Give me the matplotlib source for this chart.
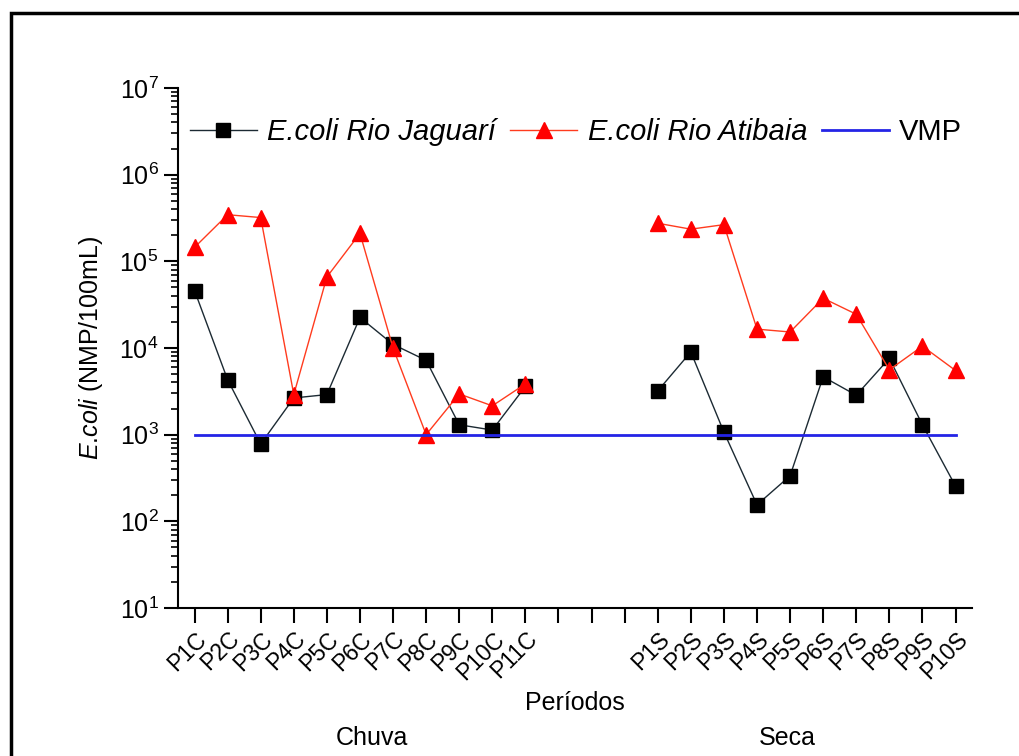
import matplotlib
matplotlib.use("Agg")
import matplotlib.pyplot as plt
from matplotlib.patches import Rectangle
from matplotlib.ticker import LogLocator, NullFormatter
import numpy as np

plt.rcParams['font.family'] = ['Liberation Sans', 'DejaVu Sans']
plt.rcParams['mathtext.fontset'] = 'custom'
plt.rcParams['mathtext.rm'] = 'Liberation Sans'
plt.rcParams['mathtext.it'] = 'Liberation Sans:italic'

# sampling points, rainy (C) and dry (S) season, with three empty slots between
chuva = ['P1C', 'P2C', 'P3C', 'P4C', 'P5C', 'P6C', 'P7C', 'P8C', 'P9C', 'P10C', 'P11C']
seca = ['P1S', 'P2S', 'P3S', 'P4S', 'P5S', 'P6S', 'P7S', 'P8S', 'P9S', 'P10S']
gap = 3

# E. coli (NMP/100mL)
jaguari_chuva = [46000, 4300, 780, 2650, 2900, 22500, 11000, 7200, 1300, 1130, 3600]
jaguari_seca = [3200, 9000, 1070, 155, 335, 4650, 2850, 7600, 1300, 255]
atibaia_chuva = [145000, 345000, 320000, 2900, 66000, 210000, 10000, 1000, 2950, 2150, 3850]
atibaia_seca = [275000, 235000, 265000, 16500, 15300, 37500, 24500, 5600, 10500, 5500]
vmp = 1000

labels = chuva + [''] * gap + seca
x_all = np.arange(len(labels))
x_c = x_all[:len(chuva)]
x_s = x_all[len(chuva) + gap:]

fig = plt.figure(figsize=(10.2, 7.56), dpi=100)
ax = fig.add_axes([0.1745, 0.1958, 0.7785, 0.6878])

jag_kw = dict(color='#1c2a33', lw=1, marker='s', ms=10, mfc='black', mec='black')
ati_kw = dict(color='#ff3b1e', lw=1, marker='^', ms=12, mfc='red', mec='red')

ax.plot(x_c, jaguari_chuva, label='E.coli Rio Jaguarí', **jag_kw)
ax.plot(x_s, jaguari_seca, **jag_kw)
ax.plot(x_c, atibaia_chuva, label='E.coli Rio Atibaia', **ati_kw)
ax.plot(x_s, atibaia_seca, **ati_kw)
ax.plot([x_all[0], x_all[-1]], [vmp, vmp], color='#2424e6', lw=2, label='VMP')

ax.set_yscale('log')
ax.set_ylim(10, 1e7)
ax.set_xlim(-0.5, len(labels) - 0.5)
ax.yaxis.set_major_locator(LogLocator(base=10, numticks=10))
ax.yaxis.set_minor_locator(LogLocator(base=10, subs=np.arange(2, 10), numticks=20))
ax.yaxis.set_minor_formatter(NullFormatter())

ax.set_xticks(x_all)
ax.set_xticklabels(labels, rotation=45, ha='right', rotation_mode='anchor', fontsize=16.5)
ax.tick_params(axis='x', which='major', direction='out', length=11, width=1.5, pad=3)
ax.tick_params(axis='y', which='major', direction='out', length=10, width=1.5, labelsize=18, pad=4)
ax.tick_params(axis='y', which='minor', direction='out', length=5, width=1.2)

for side in ('top', 'right'):
    ax.spines[side].set_visible(False)
for side in ('left', 'bottom'):
    ax.spines[side].set_linewidth(1.5)

ax.set_ylabel(r'$\mathit{E}$.$\mathit{coli}$ (NMP/100mL)', fontsize=18, labelpad=10)
ax.set_xlabel('Períodos', fontsize=18, labelpad=5)

fig.text(0.365, 0.024, 'Chuva', fontsize=18, ha='center', va='center')
fig.text(0.772, 0.024, 'Seca', fontsize=18, ha='center', va='center')

leg = ax.legend(loc='upper left', bbox_to_anchor=(0.0, 0.965), ncol=3, frameon=False,
                fontsize=21, handlelength=2.3, handletextpad=0.35, columnspacing=0.5,
                borderaxespad=0)
for t in leg.get_texts()[:2]:
    t.set_fontstyle('italic')

# outer frame around the figure
fig.patches.append(Rectangle((0.011, -0.05), 1.05, 1.033, transform=fig.transFigure,
                             fill=False, ec='black', lw=2.5, figure=fig))

fig.savefig('out.png', dpi=100)
